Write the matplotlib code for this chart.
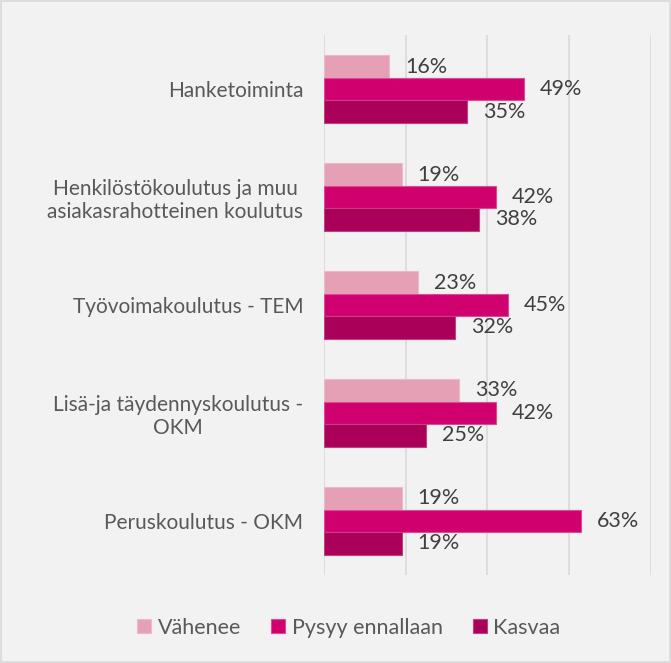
import numpy as np
import matplotlib.pyplot as plt
from matplotlib.patches import Rectangle

# Data
kategoriat = ["Hanketoiminta",
              "Henkilöstökoulutus ja muu\nasiakasrahotteinen koulutus",
              "Työvoimakoulutus - TEM",
              "Lisä-ja täydennyskoulutus -\nOKM",
              "Peruskoulutus - OKM"]
sarjat = ["Vähenee", "Pysyy ennallaan", "Kasvaa"]
vahenee = [0.16, 0.19, 0.23, 0.33, 0.19]
pysyy = [0.49, 0.42, 0.45, 0.42, 0.63]
kasvaa = [0.35, 0.38, 0.32, 0.25, 0.19]
x_tikit = [0, 0.2, 0.4, 0.6, 0.8]

varit = ["#E5A0B6", "#D1006F", "#AA005A"]
reunat = ["#EDB9CA", "#E04A93", "#C4407E"]

plt.rcParams['font.family'] = ['Lato', 'DejaVu Sans']

fig = plt.figure(figsize=(6.71, 6.63), dpi=100, facecolor="#F2F2F2")
ax = fig.add_axes([0.483, 0.133, 0.487, 0.814])
ax.set_facecolor("#F2F2F2")

y = np.arange(len(kategoriat))
h = 0.208
arvot = [vahenee, pysyy, kasvaa]
for i, (nimi, vals) in enumerate(zip(sarjat, arvot)):
    pos = y + (i - 1) * h
    ax.barh(pos, vals, height=h, color=varit[i], edgecolor=reunat[i],
            linewidth=0.8, label=nimi, zorder=3)
    for p, v in zip(pos, vals):
        ax.text(v + 0.039, p, f"{round(v * 100)}%", va="center", ha="left",
                fontsize=15.5, color="#404040", zorder=4)

ax.set_xlim(0, 0.8)
ax.set_ylim(len(kategoriat) - 0.5, -0.5)
ax.set_xticks(x_tikit)
ax.set_xticklabels([])
ax.tick_params(axis="x", length=0)
ax.xaxis.grid(True, color="#D9D9D9", linewidth=1.2, zorder=0)
ax.set_yticks(y)
ax.set_yticklabels(kategoriat, fontsize=15, color="#595959",
                   multialignment="center")
ax.tick_params(axis="y", length=0, pad=15)
for s in ["top", "right", "bottom", "left"]:
    ax.spines[s].set_visible(False)

leg = fig.legend(loc="center", bbox_to_anchor=(0.52, 0.053), ncol=3,
                 frameon=False, fontsize=15.5, handlelength=0.65,
                 handleheight=0.65, handletextpad=0.3, columnspacing=1.4)
for t in leg.get_texts():
    t.set_color("#595959")

# light border round the chart
fig.patches.append(Rectangle((0.002, 0.002), 0.996, 0.996, transform=fig.transFigure,
                             fill=False, edgecolor="#D9D9D9", linewidth=1.2))

fig.savefig("out.png", dpi=100, facecolor=fig.get_facecolor())
